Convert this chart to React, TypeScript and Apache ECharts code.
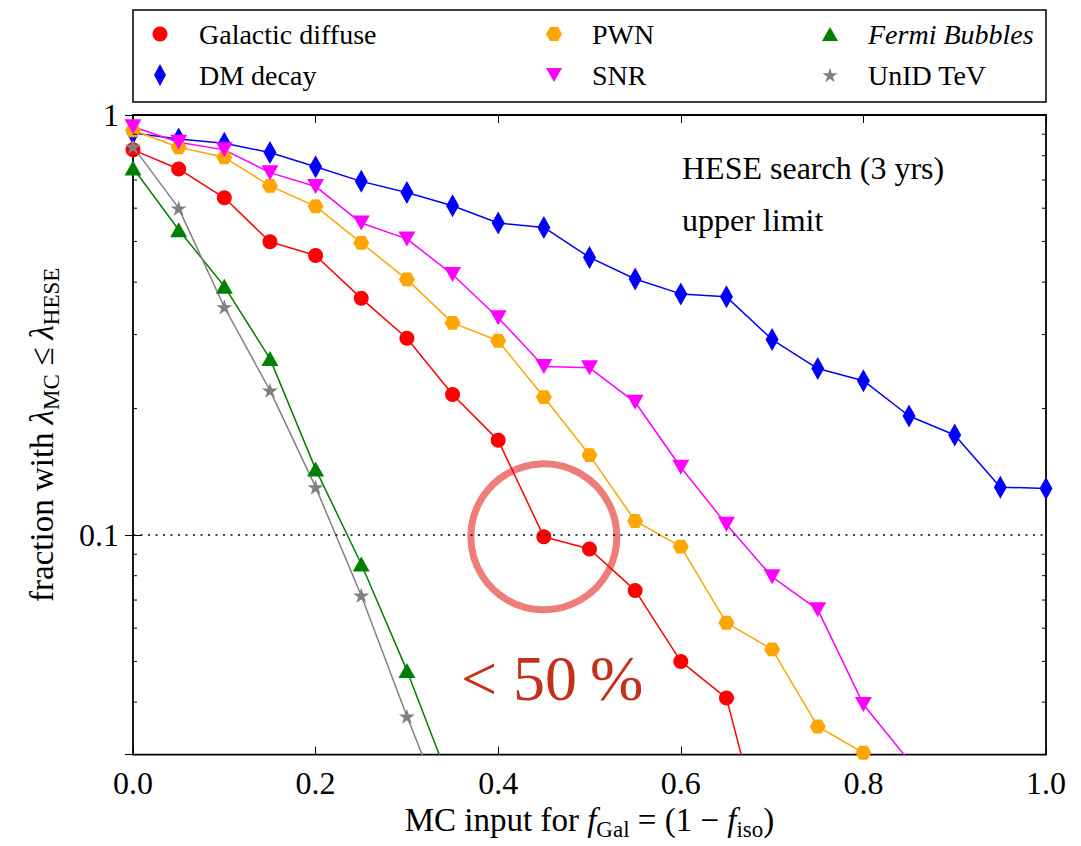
import React, { useEffect, useRef } from "react";
import * as echarts from "echarts";

// ---------------- data ----------------
const xValues = [0, 0.05, 0.1, 0.15, 0.2, 0.25, 0.3, 0.35, 0.4, 0.45, 0.5, 0.55, 0.6, 0.65, 0.7, 0.75, 0.8, 0.85, 0.9, 0.95, 1.0];

const galacticDiffuse = [0.826, 0.744, 0.635, 0.499, 0.463, 0.366, 0.294, 0.216, 0.168, 0.099, 0.0926, 0.0738, 0.05, 0.0409, 0.0157];
const dmDecay = [0.906, 0.877, 0.857, 0.814, 0.753, 0.695, 0.654, 0.608, 0.553, 0.54, 0.458, 0.407, 0.375, 0.369, 0.292, 0.249, 0.233, 0.192, 0.173, 0.13, 0.129];
const pwn = [0.92, 0.838, 0.793, 0.678, 0.606, 0.496, 0.406, 0.32, 0.29, 0.213, 0.155, 0.108, 0.0938, 0.0618, 0.0534, 0.035, 0.0303];
const snr = [0.938, 0.861, 0.826, 0.729, 0.676, 0.553, 0.507, 0.417, 0.329, 0.252, 0.25, 0.207, 0.145, 0.106, 0.0795, 0.0664, 0.0395, 0.029];
const fermiBubbles = [0.748, 0.533, 0.391, 0.263, 0.1435, 0.0853, 0.0476, 0.0248];
const unidTeV = [0.841, 0.6, 0.349, 0.221, 0.13, 0.0718, 0.037, 0.0197];

const yMajorTicks = [0.1, 1];
const yMajorLabels = ["0.1", "1"];
const yMinorTicks = [0.03, 0.04, 0.05, 0.06, 0.07, 0.08, 0.09, 0.2, 0.3, 0.4, 0.5, 0.6, 0.7, 0.8, 0.9];
const threshold = 0.1;
const highlightPoint = [0.45, 0.099];
const highlightText = "< 50\u2009%";
const searchText = ["HESE search (3 yrs)", "upper limit"];

// ---------------- styles ----------------
const FONT = "'Liberation Serif', 'Times New Roman', 'DejaVu Serif', serif";
const HEX = "path://M2 0.866L1.5 1.732L0.5 1.732L0 0.866L0.5 0L1.5 0Z";
const DOWN_TRI = "path://M0 0L2 0L1 1.732Z";
const STAR =
  "path://M1 0L1.2245 0.691L1.951 0.691L1.363 1.118L1.588 1.809L1 1.382L0.412 1.809L0.637 1.118L0.049 0.691L0.7755 0.691Z";

const defs = [
  { name: "Galactic diffuse", data: galacticDiffuse, color: "#ff0000", symbol: "circle", size: 15, rotate: 0, icon: "circle", iw: 15, ih: 15, lx: 160, ly: 34, tx: 199 },
  { name: "DM decay", data: dmDecay, color: "#0000ff", symbol: "diamond", size: [13, 23], rotate: 0, icon: "diamond", iw: 12, ih: 22, lx: 160, ly: 75, tx: 199 },
  { name: "PWN", data: pwn, color: "#ffa500", symbol: HEX, size: 16, rotate: 0, icon: HEX, iw: 16, ih: 16, lx: 554, ly: 34, tx: 592 },
  { name: "SNR", data: snr, color: "#ff00ff", symbol: "triangle", size: [17, 15], rotate: 180, icon: DOWN_TRI, iw: 16, ih: 14, lx: 554, ly: 75, tx: 592 },
  { name: "Fermi Bubbles", data: fermiBubbles, color: "#008000", symbol: "triangle", size: [17, 15], rotate: 0, icon: "triangle", iw: 16, ih: 14, lx: 830, ly: 34, tx: 868, italic: true },
  { name: "UnID TeV", data: unidTeV, color: "#808080", symbol: STAR, size: 16, rotate: 0, icon: STAR, iw: 15, ih: 15, lx: 830, ly: 75, tx: 868 },
];

const GRID = { left: 133, top: 115, width: 913, height: 641 };

export default function App() {
  const ref = useRef<HTMLDivElement>(null);

  useEffect(() => {
    document.body.style.margin = "0";
    if (!ref.current) return;
    const chart = echarts.init(ref.current, undefined, { renderer: "svg" });

    const lineSeries = defs.map((d, idx) => ({
      type: "line",
      name: d.name,
      data: d.data.map((y, i) => [xValues[i], y]),
      symbol: d.symbol,
      symbolSize: d.size,
      symbolRotate: d.rotate,
      symbolKeepAspect: true,
      showAllSymbol: true,
      clip: true,
      z: 3,
      lineStyle: { color: d.color, width: 1.5 },
      itemStyle: { color: d.color, borderWidth: 0 },
      emphasis: { disabled: true },
      ...(idx === 0
        ? {
            markLine: {
              silent: true,
              symbol: "none",
              label: { show: false },
              lineStyle: { color: "#000", type: [2, 5.5], width: 1.5 },
              emphasis: { disabled: true },
              data: [{ yAxis: threshold }],
            },
          }
        : {}),
    }));

    const legends = defs.map((d) => {
      const left = d.lx - d.iw / 2;
      const pad = d.tx - (left + d.iw + 5);
      return {
        show: true,
        data: [{ name: d.name, icon: d.icon, textStyle: d.italic ? { fontStyle: "italic" } : {} }],
        left,
        top: d.ly - 15,
        padding: 0,
        itemGap: 0,
        itemWidth: d.iw,
        itemHeight: d.ih,
        selectedMode: false,
        textStyle: { fontFamily: FONT, fontSize: 28, color: "#000", lineHeight: 30, padding: [0, 0, 0, pad] },
      };
    });

    const axisFont = { fontFamily: FONT, fontSize: 32, color: "#000" };
    const richName = {
      t: { fontFamily: FONT, fontSize: 33, color: "#000", lineHeight: 42 },
      i: { fontFamily: FONT, fontSize: 33, color: "#000", fontStyle: "italic", lineHeight: 42 },
      s: { fontFamily: FONT, fontSize: 23, color: "#000", lineHeight: 23, verticalAlign: "bottom" },
    };

    const option = {
      animation: false,
      grid: { ...GRID, show: true, borderColor: "#000", borderWidth: 1.8, backgroundColor: "#fff", containLabel: false },
      legend: legends,
      xAxis: [
        {
          type: "value",
          min: 0,
          max: 1,
          interval: 0.2,
          position: "bottom",
          axisLine: { show: false },
          axisTick: { inside: true, length: 8, lineStyle: { color: "#000", width: 1 } },
          axisLabel: { ...axisFont, margin: 12, formatter: (v: number) => v.toFixed(1) },
          splitLine: { show: false },
          name: "{t|MC input for }{i|f}{s|Gal}{t| = (1 \u2212 }{i|f}{s|iso}{t|)}",
          nameLocation: "middle",
          nameGap: 44,
          nameTextStyle: { ...axisFont, rich: richName },
        },
        {
          type: "value",
          min: 0,
          max: 1,
          interval: 0.2,
          position: "top",
          axisLine: { show: false },
          axisTick: { inside: true, length: 8, lineStyle: { color: "#000", width: 1 } },
          axisLabel: { show: false },
          splitLine: { show: false },
        },
      ],
      yAxis: [
        {
          type: "log",
          logBase: 10,
          min: 0.03,
          max: 1,
          position: "left",
          axisLine: { show: false },
          axisTick: { inside: true, length: 8, lineStyle: { color: "#000", width: 1 } },
          axisLabel: {
            ...axisFont,
            margin: 14,
            formatter: (v: number) => {
              const k = yMajorTicks.findIndex((t) => Math.abs(t - v) < 1e-9);
              return k >= 0 ? yMajorLabels[k] : "";
            },
          },
          splitLine: { show: false },
          name: "{t|fraction with }{i|\u03bb}{s|MC}{t| \u2264 }{i|\u03bb}{s|HESE}",
          nameLocation: "middle",
          nameRotate: 90,
          nameGap: 70,
          nameTextStyle: { ...axisFont, rich: richName },
        },
        {
          type: "log",
          logBase: 10,
          min: 0.03,
          max: 1,
          position: "right",
          axisLine: { show: false },
          axisTick: { inside: true, length: 8, lineStyle: { color: "#000", width: 1 } },
          axisLabel: { show: false },
          splitLine: { show: false },
        },
      ],
      series: [
        {
          type: "custom",
          name: "minor ticks",
          silent: true,
          clip: false,
          z: 4,
          data: yMinorTicks.map((v) => [0, v]),
          renderItem: (params: any, api: any) => {
            const y = api.coord([0, api.value(1)])[1];
            const cs = params.coordSys;
            return {
              type: "group",
              children: [
                { type: "line", shape: { x1: cs.x, y1: y, x2: cs.x + 4, y2: y }, style: { stroke: "#000", lineWidth: 1 } },
                { type: "line", shape: { x1: cs.x + cs.width - 4, y1: y, x2: cs.x + cs.width, y2: y }, style: { stroke: "#000", lineWidth: 1 } },
              ],
            };
          },
        },
        {
          type: "scatter",
          name: "highlight",
          silent: true,
          z: 2,
          data: [highlightPoint],
          symbol: "circle",
          symbolSize: 146,
          itemStyle: { color: "rgba(0,0,0,0)", borderColor: "#e85d57", borderWidth: 7 },
          emphasis: { disabled: true },
        },
        ...lineSeries,
      ],
      graphic: [
        {
          type: "rect",
          silent: true,
          shape: { x: 133, y: 10, width: 913, height: 92 },
          style: { fill: "none", stroke: "#000", lineWidth: 1.5 },
        },
        {
          type: "text",
          silent: true,
          x: 682,
          y: 168,
          style: { text: searchText[0], font: `32px ${FONT}`, fill: "#000", textVerticalAlign: "middle", verticalAlign: "middle" },
        },
        {
          type: "text",
          silent: true,
          x: 682,
          y: 220,
          style: { text: searchText[1], font: `32px ${FONT}`, fill: "#000", textVerticalAlign: "middle", verticalAlign: "middle" },
        },
        {
          type: "text",
          silent: true,
          x: 461,
          y: 678,
          style: { text: highlightText, font: `64px ${FONT}`, fill: "#c4301a", textVerticalAlign: "middle", verticalAlign: "middle" },
        },
      ],
    };

    chart.setOption(option as any);
    return () => chart.dispose();
  }, []);

  return <div ref={ref} style={{ width: 1081, height: 846 }} />;
}
